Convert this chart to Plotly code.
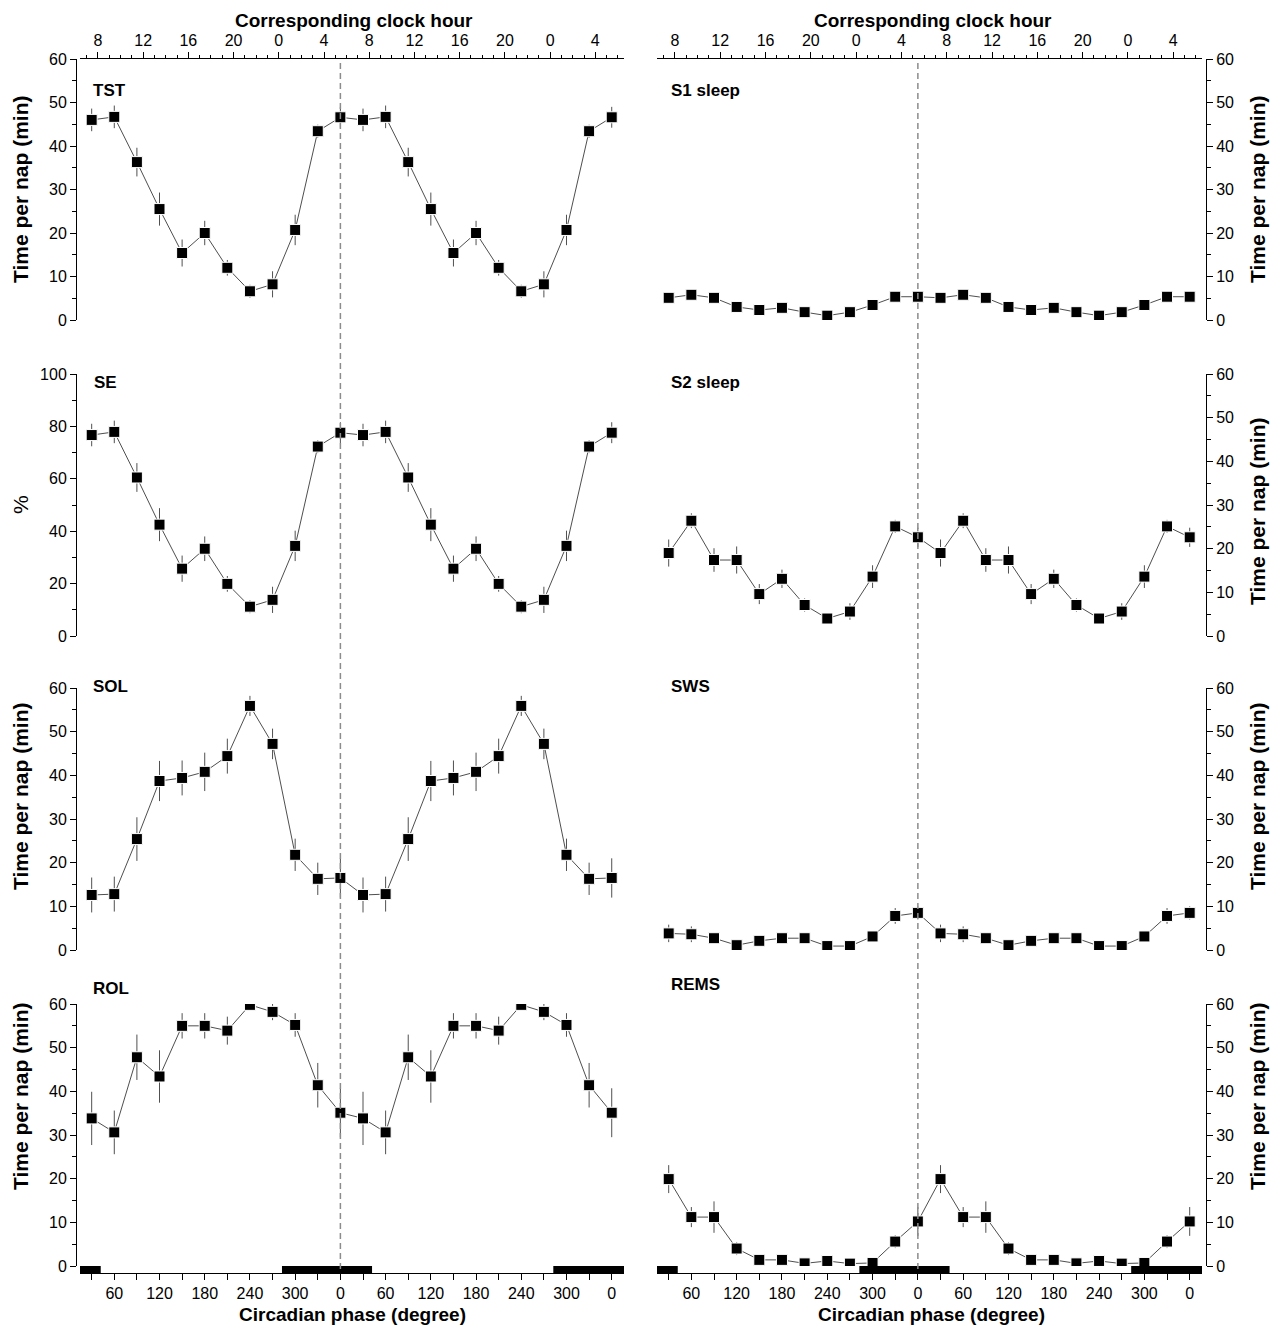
import plotly.graph_objects as go

# ---------------- data ----------------
# circadian phase (degree), double-plotted (two cycles)
phase = [30, 60, 90, 120, 150, 180, 210, 240, 270, 300, 330, 360,
         390, 420, 450, 480, 510, 540, 570, 600, 630, 660, 690, 720]
phase_tick_vals = [60, 120, 180, 240, 300, 360, 420, 480, 540, 600, 660, 720]
phase_tick_text = ["60", "120", "180", "240", "300", "0",
                   "60", "120", "180", "240", "300", "0"]

clock_tick_vals = [8, 12, 16, 20, 24, 28, 32, 36, 40, 44, 48, 52]
clock_tick_text = ["8", "12", "16", "20", "0", "4", "8", "12", "16", "20", "0", "4"]
clock_at_phase0 = 5.45  # clock hour corresponding to phase 0

# one cycle (30..360 deg); plotted twice
tst = [46.0, 46.7, 36.3, 25.5, 15.4, 20.0, 12.0, 6.6, 8.2, 20.7, 43.4, 46.6]
tst_err = [2.6, 2.6, 3.3, 3.8, 3.1, 2.8, 1.8, 1.5, 3.0, 3.5, 1.5, 2.4]

se = [76.7, 77.9, 60.5, 42.5, 25.7, 33.3, 19.9, 11.2, 13.8, 34.4, 72.3, 77.6]
se_err = [4.3, 4.3, 5.5, 6.3, 5.0, 4.7, 3.0, 2.5, 5.0, 5.8, 2.5, 4.0]

sol = [12.6, 12.8, 25.4, 38.7, 39.4, 40.8, 44.4, 55.9, 47.2, 21.8, 16.3, 16.5]
sol_err = [4.0, 4.0, 5.0, 4.6, 4.0, 4.4, 4.0, 2.3, 3.5, 3.7, 3.7, 4.5]

rol = [33.8, 30.6, 47.8, 43.4, 55.0, 55.0, 53.9, 59.8, 58.2, 55.2, 41.4, 35.1]
rol_err = [6.1, 5.0, 5.2, 6.0, 2.9, 2.9, 3.2, 1.0, 1.9, 2.7, 5.1, 5.6]

s1 = [5.1, 5.8, 5.1, 3.0, 2.3, 2.8, 1.8, 1.0, 1.8, 3.45, 5.35, 5.35]
s1_err = [0.5, 0.5, 0.5, 0.4, 0.4, 0.4, 0.3, 0.3, 0.3, 0.4, 0.6, 0.6]

s2 = [19.0, 26.4, 17.4, 17.4, 9.6, 13.1, 7.1, 4.0, 5.6, 13.6, 25.1, 22.6]
s2_err = [3.1, 1.7, 2.7, 3.1, 2.3, 2.1, 1.5, 1.0, 1.9, 2.6, 1.5, 2.2]

sws = [3.8, 3.6, 2.7, 1.1, 2.1, 2.7, 2.7, 0.9, 0.9, 3.1, 7.8, 8.5]
sws_err = [2.0, 1.8, 0.8, 0.5, 0.6, 0.6, 0.6, 0.4, 0.4, 0.8, 1.8, 1.5]

rems = [19.9, 11.2, 11.2, 4.0, 1.4, 1.4, 0.6, 1.15, 0.55, 0.7, 5.6, 10.2]
rems_err = [3.2, 2.3, 3.6, 1.5, 0.6, 0.6, 0.3, 0.5, 0.3, 0.4, 1.5, 3.3]

# scheduled sleep episodes (phase, degree)
sleep_start = [-77.5, 282.5, 642.5]
sleep_end = [42.0, 402.0, 762.0]

# ---------------- layout helpers ----------------
W, H = 1274, 1327
X_RANGE = [14.5, 736.3]
FONT = "Arial, Liberation Sans, sans-serif"


def fx(px):
    return px / W


def fy(py):
    return 1 - py / H


col_px = [(80, 624), (657, 1202)]
yline_px = [76, 1206]
row_px = [(59, 320), (374, 636), (688, 950), (1004, 1266)]
bottom_axis_px = 1273

panels = [
    # name, values, errors, col, row, yrange, dtick, minor, label (x, y)
    ("TST", tst, tst_err, 0, 0, [0, 60], 10, 5, (91, 90)),
    ("SE", se, se_err, 0, 1, [0, 100], 20, 10, (92, 382)),
    ("SOL", sol, sol_err, 0, 2, [0, 60], 10, 5, (91, 686)),
    ("ROL", rol, rol_err, 0, 3, [0, 60], 10, 5, (91, 988)),
    ("S1 sleep", s1, s1_err, 1, 0, [0, 60], 10, 5, (669, 90)),
    ("S2 sleep", s2, s2_err, 1, 1, [0, 60], 10, 5, (669, 382)),
    ("SWS", sws, sws_err, 1, 2, [0, 60], 10, 5, (669, 686)),
    ("REMS", rems, rems_err, 1, 3, [0, 60], 10, 5, (669, 984)),
]

fig = go.Figure()
layout = dict(
    width=W, height=H,
    margin=dict(l=0, r=0, t=0, b=0, pad=0, autoexpand=False),
    paper_bgcolor="white",
    plot_bgcolor="rgba(0,0,0,0)",
    showlegend=False,
    font=dict(family=FONT, size=16, color="black"),
)
annotations = []
shapes = []

for k, (name, vals, errs, col, row, yr, dt, mn, lab) in enumerate(panels, start=1):
    xs = "" if k == 1 else str(k)
    fig.add_trace(go.Scatter(
        x=phase, y=vals + vals,
        error_y=dict(type="data", array=errs + errs, color="#505050",
                     thickness=1, width=0),
        mode="lines+markers",
        line=dict(color="#3a3a3a", width=0.9),
        marker=dict(symbol="square", size=11, color="black",
                    line=dict(color="white", width=1)),
        xaxis="x" + xs, yaxis="y" + xs, hoverinfo="skip",
    ))
    xd = [fx(col_px[col][0]), fx(col_px[col][1])]
    yd = [fy(row_px[row][1]), fy(row_px[row][0])]
    xa = dict(domain=xd, range=X_RANGE, showgrid=False, zeroline=False,
              automargin=False)
    if row == 3:
        xa.update(anchor="free", position=fy(bottom_axis_px), showline=True,
                  linecolor="black", linewidth=1, ticks="outside", ticklen=6,
                  tickcolor="black", tickwidth=1, tickmode="array",
                  tickvals=phase_tick_vals, ticktext=phase_tick_text,
                  tickfont=dict(size=16),
                  minor=dict(tickmode="array", tickvals=phase, ticks="outside",
                             ticklen=6, tickcolor="black", tickwidth=1))
    else:
        xa.update(anchor="y" + xs, visible=False)
    layout["xaxis" + xs] = xa

    side = "left" if col == 0 else "right"
    ya = dict(domain=yd, range=yr, anchor="free", position=fx(yline_px[col]),
              side=side, showgrid=False, zeroline=False, showline=True,
              linecolor="black", linewidth=1, ticks="outside", ticklen=6,
              tickcolor="black", tickwidth=1, dtick=dt, tick0=0,
              tickfont=dict(size=16), automargin=False,
              minor=dict(dtick=mn, tick0=0, ticks="outside", ticklen=4,
                         tickcolor="black", tickwidth=1))
    layout["yaxis" + xs] = ya

    annotations.append(dict(
        text="<b>%s</b>" % name, x=fx(lab[0]), y=fy(lab[1]),
        xref="paper", yref="paper", xanchor="left", yanchor="middle",
        showarrow=False, font=dict(size=17)))

    if row == 3:
        # black bars for scheduled sleep episodes
        for s0, s1_ in zip(sleep_start, sleep_end):
            shapes.append(dict(
                type="rect", xref="x" + xs, yref="y%s domain" % xs,
                x0=s0, x1=s1_, y0=-(bottom_axis_px - row_px[3][1]) / (row_px[3][1] - row_px[3][0]),
                y1=0, fillcolor="black", line=dict(width=0), layer="above"))

# top clock-hour axes
for col, (base, tid) in enumerate([("", "9"), ("5", "10")]):
    rng = [X_RANGE[0] / 15 + clock_at_phase0, X_RANGE[1] / 15 + clock_at_phase0]
    layout["xaxis" + tid] = dict(
        overlaying="x" + base, anchor="y" + base, side="top", range=rng,
        showgrid=False, zeroline=False, showline=True, linecolor="black",
        linewidth=1, ticks="outside", ticklen=6, tickcolor="black", tickwidth=1,
        tickmode="array", tickvals=clock_tick_vals, ticktext=clock_tick_text,
        tickfont=dict(size=16), automargin=False,
        minor=dict(dtick=1, tick0=0, ticks="outside", ticklen=3,
                   tickcolor="black", tickwidth=1))
    fig.add_trace(go.Scatter(
        x=clock_tick_vals, y=[None] * len(clock_tick_vals), mode="markers",
        xaxis="x" + tid, yaxis="y" + base, hoverinfo="skip", showlegend=False))

# dashed reference line at phase 0 (360)
for base in ["", "5"]:
    shapes.append(dict(
        type="line", xref="x" + base, yref="paper", x0=360, x1=360,
        y0=fy(bottom_axis_px - 4), y1=fy(row_px[0][0]),
        line=dict(color="#8c8c8c", width=1.5, dash="6px,4px"), layer="above"))

# axis titles
for cx in [354, 933]:
    annotations.append(dict(text="<b>Corresponding clock hour</b>", x=fx(cx), y=fy(20),
                            xref="paper", yref="paper", showarrow=False,
                            xanchor="center", yanchor="middle", font=dict(size=19)))
    annotations.append(dict(text="<b>Circadian phase (degree)</b>", x=fx(cx - 2), y=fy(1314),
                            xref="paper", yref="paper", showarrow=False,
                            xanchor="center", yanchor="middle", font=dict(size=19)))

left_titles = [("<b>Time per nap (min)</b>", 190), ("%", 505),
               ("<b>Time per nap (min)</b>", 797), ("<b>Time per nap (min)</b>", 1097)]
right_titles = [("<b>Time per nap (min)</b>", 190), ("<b>Time per nap (min)</b>", 512),
                ("<b>Time per nap (min)</b>", 797), ("<b>Time per nap (min)</b>", 1097)]
for (t, cy) in left_titles:
    annotations.append(dict(text=t, x=fx(20), y=fy(cy), xref="paper", yref="paper",
                            showarrow=False, textangle=-90, xanchor="center",
                            yanchor="middle", font=dict(size=21)))
for (t, cy) in right_titles:
    annotations.append(dict(text=t, x=fx(1257), y=fy(cy), xref="paper", yref="paper",
                            showarrow=False, textangle=-90, xanchor="center",
                            yanchor="middle", font=dict(size=21)))

layout["annotations"] = annotations
layout["shapes"] = shapes
fig.update_layout(**layout)
fig.write_html("out.html", config={"displayModeBar": False},
               post_script="document.body.style.margin='0';document.body.style.overflow='hidden';")
